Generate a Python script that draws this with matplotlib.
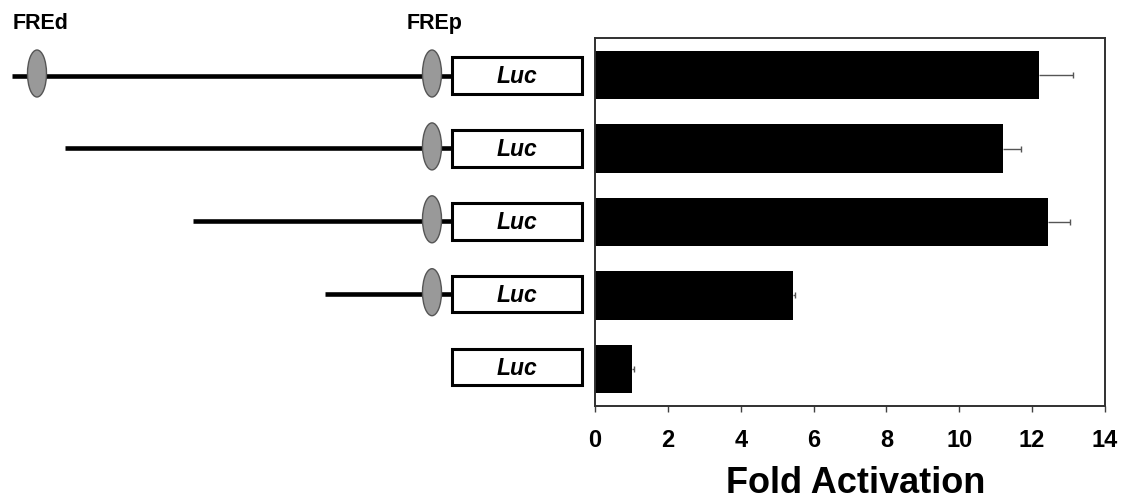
import numpy as np
import matplotlib
matplotlib.use("Agg")
import matplotlib.pyplot as plt
from matplotlib.patches import Ellipse, Rectangle

plt.rcParams['font.family'] = ['Liberation Sans', 'DejaVu Sans']

# fold activation of each reporter construct (top to bottom)
fold = [12.19, 11.19, 12.43, 5.43, 1.01]
fold_err = [0.92, 0.50, 0.60, 0.07, 0.06]

# schematic of the constructs: promoter length upstream of Luc (schematic units)
promoter_len = [440, 387, 259, 127, 0]
has_fred = [True, False, False, False, False]
has_frep = [True, True, True, True, False]
gene_label = "Luc"
site_labels = ["FREd", "FREp"]
xticks = np.arange(0, 15, 2)

fig = plt.figure(figsize=(11.24, 4.99), dpi=100)

# left part: construct drawings in pixel units
ax_s = fig.add_axes([0, 0, 1, 1])
ax_s.set_xlim(0, 1124)
ax_s.set_ylim(499, 0)
ax_s.axis('off')

box_x0, box_x1 = 451.5, 581.8
box_h = 36.5
frep_x, fred_x = 432, 37
row_y0, row_dy = 75.5, 72.9

for i in range(len(fold)):
    yc = row_y0 + i * row_dy
    if promoter_len[i] > 0:
        ax_s.plot([box_x0 - promoter_len[i], box_x0], [yc, yc], color='black',
                  lw=3.3, solid_capstyle='butt', zorder=1)
    if has_frep[i]:
        ax_s.add_patch(Ellipse((frep_x, yc - 2), 19, 47, facecolor='#999999',
                               edgecolor='#555555', lw=1, zorder=2))
    if has_fred[i]:
        ax_s.add_patch(Ellipse((fred_x, yc - 2), 19, 47, facecolor='#999999',
                               edgecolor='#555555', lw=1, zorder=2))
    ax_s.add_patch(Rectangle((box_x0, yc - box_h / 2), box_x1 - box_x0, box_h,
                             facecolor='white', edgecolor='black', lw=2.2, zorder=3))
    ax_s.text((box_x0 + box_x1) / 2, yc + 1, gene_label, ha='center', va='center',
              fontsize=16.5, fontweight='bold', fontstyle='italic', zorder=4)

ax_s.text(fred_x + 4, 23, site_labels[0], ha='center', va='center',
          fontsize=15.5, fontweight='bold')
ax_s.text(frep_x + 3, 23, site_labels[1], ha='center', va='center',
          fontsize=15.5, fontweight='bold')

# right part: bar chart
ax = fig.add_axes([595 / 1124, 1 - 405.7 / 499, 510 / 1124, 367.4 / 499])
pos = np.arange(len(fold))
bars = ax.barh(pos, fold, height=0.66, color='black',
               xerr=[np.zeros(len(fold_err)), fold_err],
               error_kw=dict(ecolor='#555555', elinewidth=1, capsize=2, capthick=1))
# only the outer cap of each error bar is shown
caplines = bars.errorbar.lines[1]
caplines[0].set_visible(False)

ax.set_ylim(4.5, -0.5)
ax.set_xlim(0, 14)
ax.set_yticks([])
ax.set_xticks(xticks)
ax.set_xticklabels([str(t) for t in xticks], fontsize=17, fontweight='bold')
ax.tick_params(axis='x', direction='out', length=4.5, width=1, color='#404040', pad=12)
for sp in ax.spines.values():
    sp.set_color('#303030')
    sp.set_linewidth(1.4)

fig.text(856 / 1124, 1 - 493 / 499, "Fold Activation", ha='center', va='baseline',
         fontsize=26, fontweight='bold')

plt.savefig("out.png", dpi=100)
